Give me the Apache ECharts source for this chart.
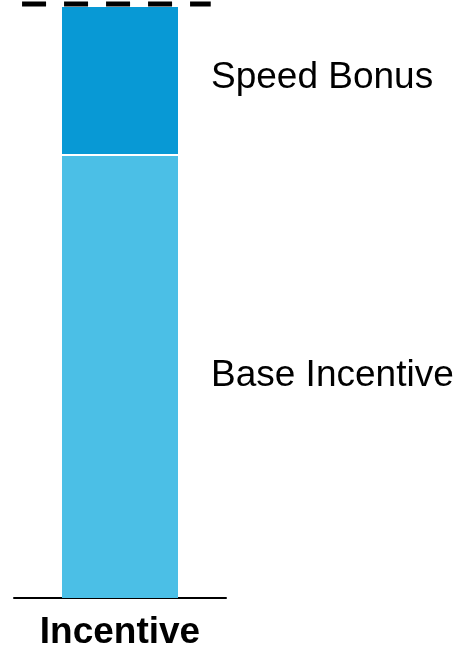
<!DOCTYPE html>
<html>
<head>
<meta charset="utf-8">
<script src="https://cdn.jsdelivr.net/npm/echarts@6/dist/echarts.min.js"></script>
<style>
html,body{margin:0;padding:0;background:#fff;}
#chart{width:467px;height:651px;}
</style>
</head>
<body>
<div id="chart"></div>
<script>
var categories = ['Incentive'];
var baseIncentive = [75];
var speedBonus = [25];
var targetLevel = 100.5;
var targetSpan = [0.038, 0.928];
var seriesNames = ['Base Incentive', 'Speed Bonus'];

var FONT = '"Liberation Sans", Arial, Helvetica, sans-serif';
var chart = echarts.init(document.getElementById('chart'), null, {renderer: 'canvas'});

function segLabel(dy) {
  return {
    show: true,
    position: 'right',
    distance: 33,
    offset: [0, dy],
    formatter: '{a}',
    color: '#000',
    fontFamily: FONT,
    fontSize: 37
  };
}

chart.setOption({
  animation: false,
  backgroundColor: '#fff',
  grid: {left: 14, width: 212, top: 7, bottom: 46, containLabel: false},
  xAxis: [{
    type: 'category',
    data: categories,
    axisTick: {show: false},
    axisLine: {show: true, lineStyle: {color: '#000', width: 2}},
    axisLabel: {color: '#000', fontFamily: FONT, fontSize: 37, fontWeight: 'bold', margin: 16},
    splitLine: {show: false}
  }, {
    type: 'value',
    min: 0, max: 1,
    show: false,
    splitLine: {show: false}
  }],
  yAxis: {
    type: 'value',
    min: 0, max: 100,
    show: false,
    splitLine: {show: false}
  },
  series: [{
    name: seriesNames[0],
    type: 'bar',
    stack: 'total',
    barWidth: 116,
    data: baseIncentive,
    itemStyle: {color: '#4BBFE6'},
    label: segLabel(-1)
  }, {
    name: seriesNames[1],
    type: 'bar',
    stack: 'total',
    barWidth: 116,
    data: speedBonus,
    itemStyle: {color: '#0899D5'},
    label: segLabel(-3),
    markLine: {
      silent: true,
      symbol: 'none',
      label: {show: false},
      lineStyle: {color: '#fff', width: 2, type: 'solid'},
      data: [{yAxis: baseIncentive[0]}]
    }
  }, {
    name: 'Target',
    type: 'line',
    xAxisIndex: 1,
    clip: false,
    symbol: 'none',
    data: [[targetSpan[0], targetLevel], [targetSpan[1], targetLevel]],
    lineStyle: {color: '#000', width: 5, type: [24, 18], cap: 'butt'},
    z: 5
  }]
});
</script>
</body>
</html>
